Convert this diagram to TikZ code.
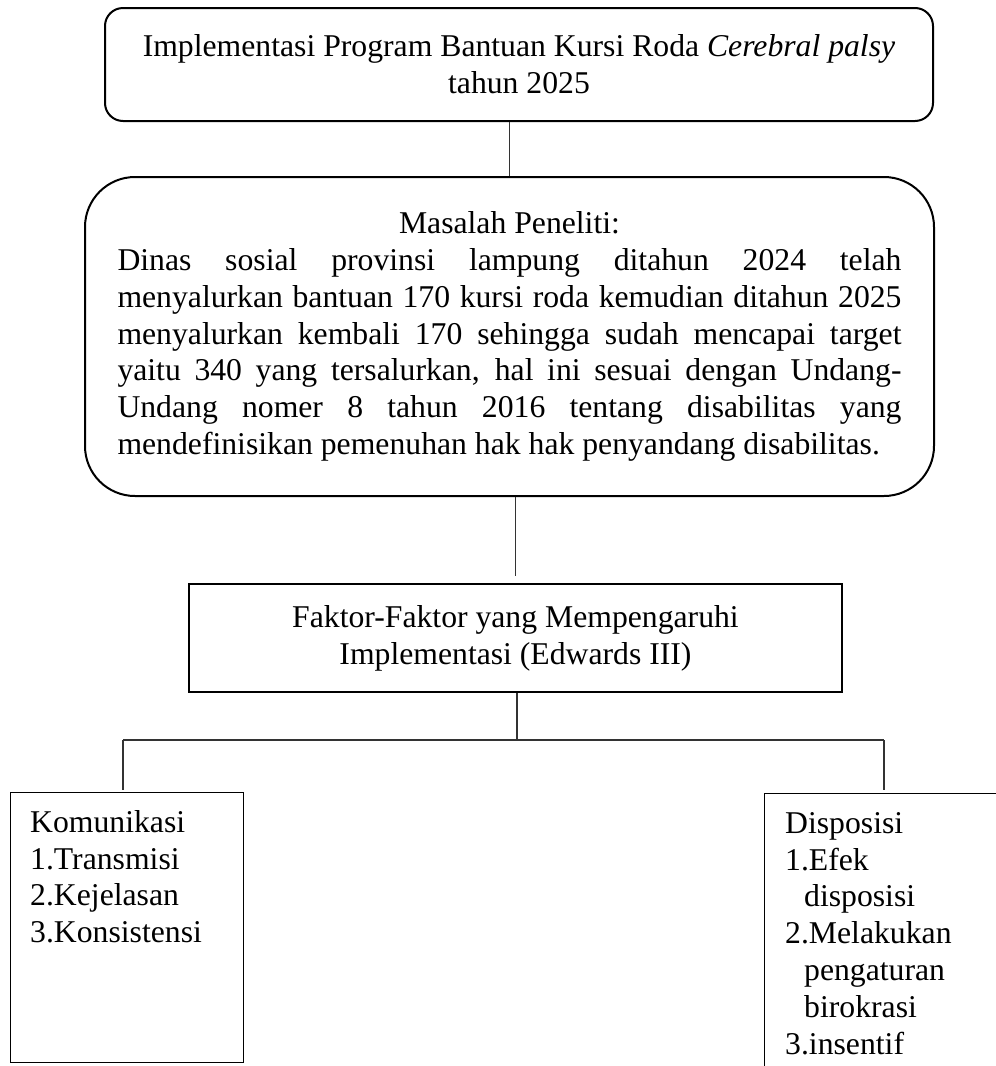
\documentclass[tikz,border=0pt]{standalone}
\usepackage{fontspec}
\setmainfont{Liberation Serif}
\begin{document}
\begin{tikzpicture}[x=1pt,y=-1pt,
  every node/.style={font=\fontsize{31.7}{36.8}\selectfont, inner sep=0pt},
  thickbox/.style={draw, line width=2pt},
  thinbox/.style={draw, line width=1pt},
  conn/.style={draw, line width=1.2pt, color=black!80}]
\useasboundingbox (0,0) rectangle (996,1066);

% top box
\node[thickbox, rounded corners=18pt, minimum width=828pt, minimum height=113pt, align=center] (top) at (519,64.5)
  {Implementasi Program Bantuan Kursi Roda \textit{Cerebral palsy}\\tahun 2025};

% big box
\node[thickbox, rounded corners=50pt, minimum width=849pt, minimum height=319pt, align=left] (big) at (509.5,336.5)
  {\makebox[784pt]{Masalah Peneliti:}\\
   \makebox[784pt][s]{Dinas sosial provinsi lampung ditahun 2024 telah}\\
   \makebox[784pt][s]{menyalurkan bantuan 170 kursi roda kemudian ditahun 2025}\\
   \makebox[784pt][s]{menyalurkan kembali 170 sehingga sudah mencapai target}\\
   \makebox[784pt][s]{yaitu 340 yang tersalurkan, hal ini sesuai dengan Undang-}\\
   \makebox[784pt][s]{Undang nomer 8 tahun 2016 tentang disabilitas yang}\\
   \makebox[784pt][l]{mendefinisikan pemenuhan hak hak penyandang disabilitas.}};

% factor box
\node[thickbox, minimum width=653pt, minimum height=108pt, align=center] (faktor) at (515.5,638)
  {Faktor-Faktor yang Mempengaruhi\\Implementasi (Edwards III)};

% Komunikasi box
\node[thinbox, minimum width=233pt, minimum height=270pt] (kom) at (126.5,927) {};
\node[anchor=north west, align=left] (komtxt) at (30,810)
  {Komunikasi\\1.Transmisi\\2.Kejelasan\\3.Konsistensi};

% Disposisi box (cut off at picture edge)
\coordinate (disnw) at (764,793);
\coordinate (disne) at (996,793);
\coordinate (dissw) at (764,1066);
\draw[line width=1pt] (disne) -- (disnw) -- (dissw);
\node[anchor=north west, align=left] (distxt) at (785,812)
  {Disposisi\\1.Efek\\\hspace*{19pt}disposisi\\2.Melakukan\\\hspace*{19pt}pengaturan\\\hspace*{19pt}birokrasi\\3.insentif};

% connectors
\draw[conn] (big.north) -- (big.north |- top.south);
\draw[conn] (big.south -| faktor.north) -- ([yshift=7pt]faktor.north);
\coordinate (hub) at (517,740);
\coordinate (L) at (123,740);
\coordinate (R) at (884,740);
\draw[conn] (faktor.south -| hub) -- (hub);
\draw[conn] (L) -- (R);
\draw[conn] (L) -- ([yshift=2pt]L |- kom.north);
\draw[conn] (R) -- ([yshift=3pt]R |- disnw);
\end{tikzpicture}
\end{document}
